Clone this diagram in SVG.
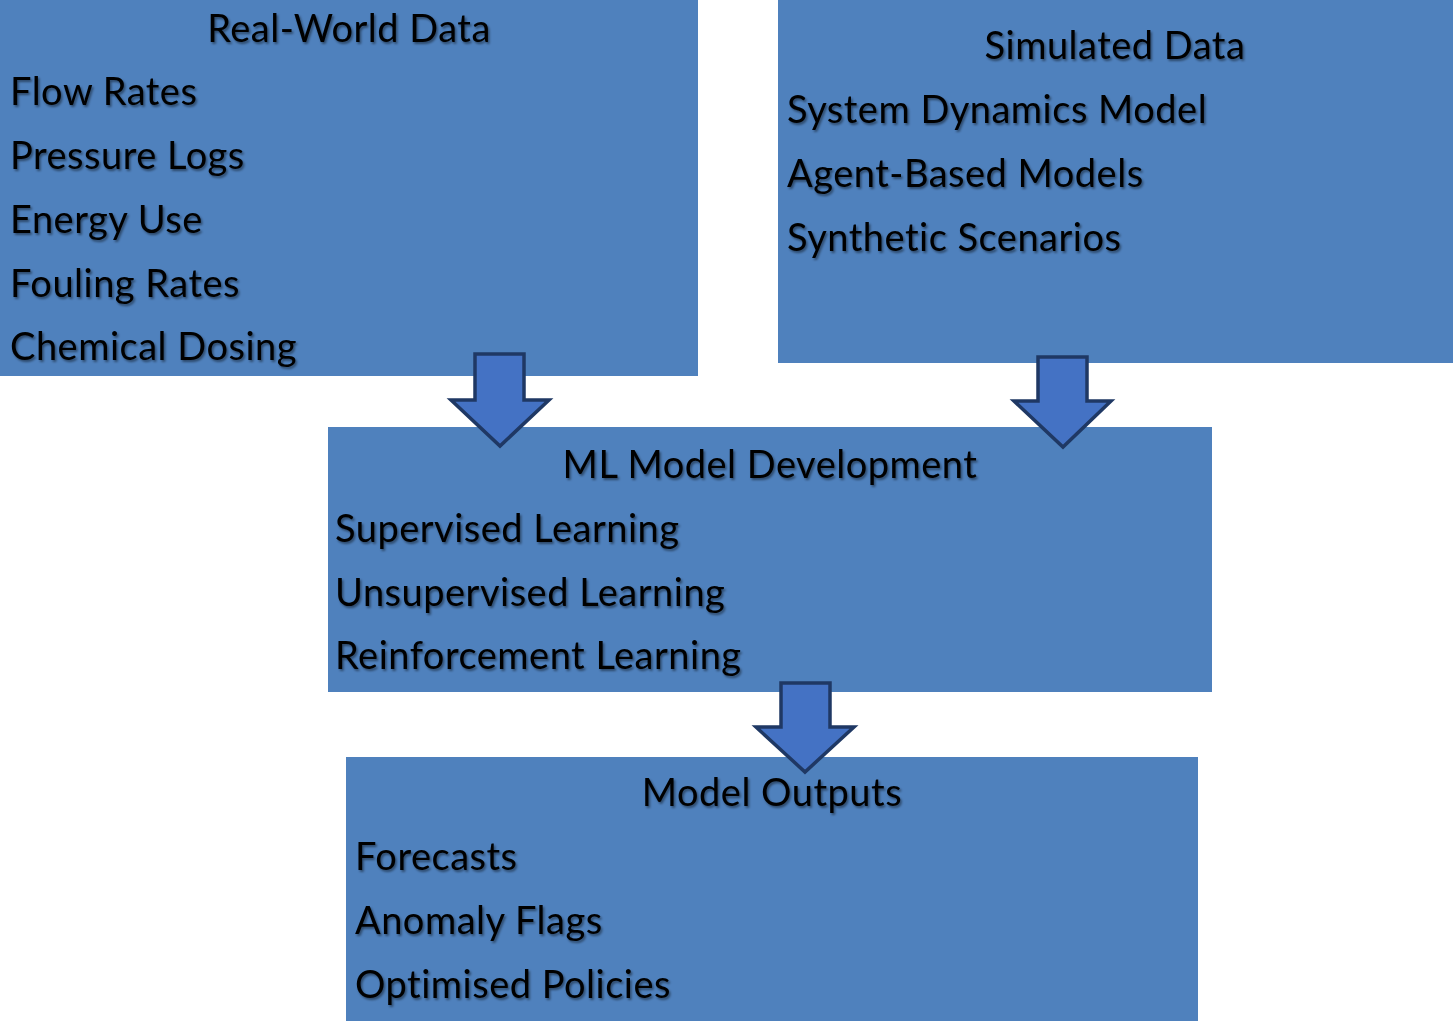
<svg xmlns="http://www.w3.org/2000/svg" width="1453" height="1021" viewBox="0 0 1453 1021">
<defs>
<filter id="sh" x="-10%" y="-30%" width="120%" height="160%">
<feDropShadow dx="1.5" dy="2" stdDeviation="1.2" flood-color="#000" flood-opacity="0.45"/>
</filter>
</defs>
<style>
.box{fill:#4F81BD;}
.t{font-family:Lato,"Open Sans",sans-serif;font-size:38px;letter-spacing:0.5px;fill:#000;filter:url(#sh);}
.c{text-anchor:middle;}
.arr{fill:#4472C4;stroke:#1F3864;stroke-width:3.5;stroke-linejoin:miter;}
</style>
<rect width="1453" height="1021" fill="#fff"/>
<g id="real-world">
<rect class="box" x="0" y="0" width="698" height="376"/>
<text class="t c" x="349" y="42">Real-World Data</text>
<text class="t" x="10" y="105">Flow Rates</text>
<text class="t" x="10" y="169">Pressure Logs</text>
<text class="t" x="10" y="233">Energy Use</text>
<text class="t" x="10" y="297">Fouling Rates</text>
<text class="t" x="10" y="360">Chemical Dosing</text>
</g>
<g id="simulated">
<rect class="box" x="778" y="0" width="675" height="363"/>
<text class="t c" x="1115" y="59">Simulated Data</text>
<text class="t" x="787" y="123">System Dynamics Model</text>
<text class="t" x="787" y="187">Agent-Based Models</text>
<text class="t" x="787" y="251">Synthetic Scenarios</text>
</g>
<g id="ml">
<rect class="box" x="328" y="427" width="884" height="265"/>
<text class="t c" x="770" y="478">ML Model Development</text>
<text class="t" x="335" y="542">Supervised Learning</text>
<text class="t" x="335" y="606">Unsupervised Learning</text>
<text class="t" x="335" y="669">Reinforcement Learning</text>
</g>
<g id="outputs">
<rect class="box" x="346" y="757" width="852" height="264"/>
<text class="t c" x="772" y="806">Model Outputs</text>
<text class="t" x="355" y="870">Forecasts</text>
<text class="t" x="355" y="934">Anomaly Flags</text>
<text class="t" x="355" y="998">Optimised Policies</text>
</g>
<g id="connectors">
<polygon class="arr" points="475,354 524,354 524,400 549,400 500,446 451,400 475,400"/>
<polygon class="arr" points="1038,357 1087,357 1087,401 1111,401 1063,447 1014,401 1038,401"/>
<polygon class="arr" points="781,683 830,683 830,727 854,727 805,772 756,727 781,727"/>
</g>
</svg>
